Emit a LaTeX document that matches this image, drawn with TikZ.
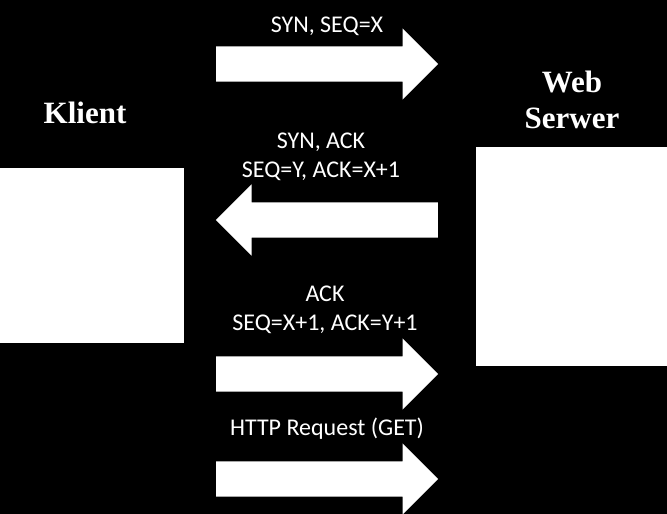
\documentclass[tikz,border=0pt]{standalone}
\usepackage{fontspec}
\setmainfont{Carlito}
\newfontfamily\titlefont{Liberation Serif}
\usetikzlibrary{shapes.arrows}

\begin{document}
\begin{tikzpicture}[x=1pt, y=-1pt,
      block_host/.style ={rectangle, draw=none, fill=white, inner sep=0pt},
      block_title/.style ={text=white, align=center, inner sep=0pt,
        font=\titlefont\bfseries\fontsize{31}{36}\selectfont},
      block_label/.style ={text=white, align=center, inner sep=0pt,
        font=\fontsize{24}{29}\selectfont},
      block_arrow/.style ={single arrow, draw=none, fill=white,
        inner xsep=0pt, inner ysep=17.5pt, minimum height=222pt,
        single arrow head extend=18pt, anchor=tail}]
    %
    % 1. background and hosts
    \fill[black] (0,0) rectangle (667,514);
    \useasboundingbox (0,0) rectangle (667,514);
    \node [block_host, minimum width=184pt, minimum height=175pt] (klient) at (92,255.5) {};
    \node [block_host, minimum width=191pt, minimum height=219pt] (serwer) at (571.5,256.5) {};
    \node [block_title, anchor=base] (klient_t) at (85,123) {Klient};
    \node [block_title, anchor=base] (serwer_t) at (572,128) {Web\\Serwer};
    %
    % 2. messages
    \node [block_arrow] (syn) at (216,64) {};
    \node [block_arrow, shape border rotate=180] (synack) at (438,220) {};
    \node [block_arrow] (ack) at (216,374) {};
    \node [block_arrow] (get) at (216,479) {};
    %
    \node [block_label, anchor=base] (syn_t) at (327,32) {SYN, SEQ=X};
    \node [block_label, anchor=base] (synack_t) at (321,177) {SYN, ACK\\SEQ=Y, ACK=X+1};
    \node [block_label, anchor=base] (ack_t) at (325,330) {ACK\\SEQ=X+1, ACK=Y+1};
    \node [block_label, anchor=base] (get_t) at (327,435) {HTTP Request (GET)};
\end{tikzpicture}
\end{document}
